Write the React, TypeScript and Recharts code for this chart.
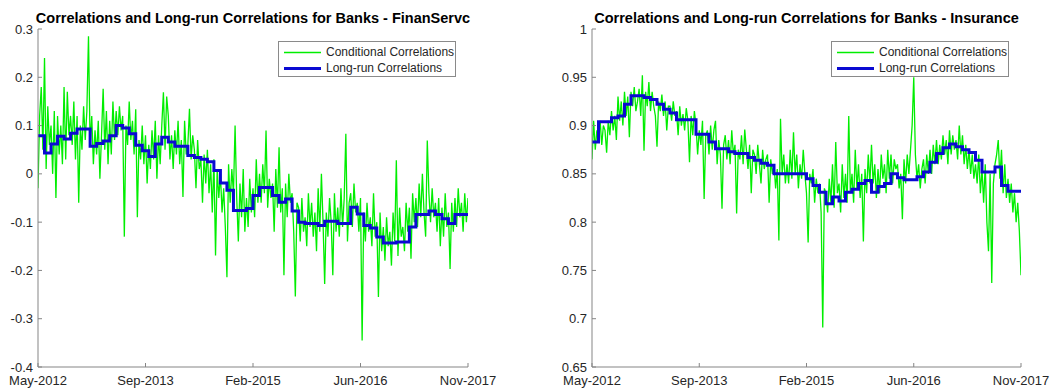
import React from 'react';
import { LineChart, Line, XAxis, YAxis } from 'recharts';

// ---- data ---------------------------------------------------------------

// Shared time axis: months since May-2012
const X_TICKS = [0, 16.5, 33, 49.5, 66];
const X_TICK_LABELS = ['May-2012', 'Sep-2013', 'Feb-2015', 'Jun-2016', 'Nov-2017'];
const COND_PER_MONTH = 4; // conditional correlations are sampled weekly

// Banks - FinanServc: conditional correlations (weekly)
const finanCond = [
  -0.03, 0.12, 0.18, 0.05,
  0.24, 0.01, 0.14, 0.06,
  0.10, 0.00, 0.13, -0.05,
  0.12, 0.04, 0.10, 0.02,
  0.18, 0.03, 0.17, 0.08,
  0.12, 0.06, 0.15, 0.03,
  0.12, -0.06, 0.10, 0.05,
  0.14, 0.07, 0.13, 0.285,
  0.06, 0.12, 0.02, 0.09,
  0.04, 0.11, -0.01, 0.08,
  0.176, 0.05, 0.13, 0.02,
  0.11, 0.04, 0.15, 0.07,
  0.13, 0.08, 0.14, 0.09,
  0.12, -0.13, 0.10, 0.06,
  0.15, 0.07, 0.11, 0.04,
  0.134, -0.09, 0.07, 0.03,
  0.10, 0.02, 0.08, -0.02,
  0.06, 0.01, 0.09, 0.03,
  0.11, -0.01, 0.08, 0.02,
  0.10, 0.169, 0.05, 0.16,
  0.12, 0.03, 0.08, 0.01,
  0.09, 0.04, 0.11, 0.02,
  0.07, -0.048, 0.11, 0.04,
  0.06, 0.135, 0.03, 0.08,
  0.05, -0.03, 0.07, 0.01,
  0.03, -0.06, 0.04, -0.02,
  0.05, -0.04, 0.02, -0.08,
  0.03, -0.169, 0.01, -0.05,
  0.00, -0.08, -0.03, -0.11,
  -0.214, 0.02, -0.06, 0.01,
  -0.04, 0.10, -0.05, -0.14,
  -0.02, -0.09, 0.01, -0.12,
  -0.05, -0.11, -0.01, -0.08,
  -0.03, -0.09, 0.03, -0.06,
  0.00, -0.06, 0.02, -0.04,
  0.09, -0.07, -0.01, -0.05,
  -0.02, -0.12, 0.01, -0.07,
  0.055, -0.08, -0.03, -0.21,
  -0.02, -0.09, 0.00, -0.06,
  -0.04, -0.12, -0.254, -0.06,
  -0.07, -0.14, -0.05, -0.12,
  -0.09, -0.15, -0.04, -0.11,
  -0.06, -0.13, -0.08, -0.16,
  -0.03, -0.12, 0.00, -0.10,
  -0.228, -0.08, -0.13, -0.05,
  -0.10, -0.21, -0.04, -0.12,
  -0.07, -0.13, -0.03, -0.11,
  -0.05, 0.083, -0.14, -0.06,
  -0.04, -0.11, -0.02, -0.08,
  -0.06, -0.12, -0.05, -0.345,
  -0.08, -0.14, -0.06, -0.12,
  -0.09, -0.15, -0.04, -0.13,
  -0.10, -0.255, -0.08, -0.16,
  -0.11, -0.18, -0.09, -0.15,
  -0.12, -0.19, -0.08, -0.14,
  0.028, -0.17, -0.07, -0.13,
  -0.11, -0.16, -0.06, -0.12,
  -0.07, -0.176, -0.04, -0.10,
  -0.05, -0.11, -0.02, -0.09,
  0.00, -0.08, -0.13, 0.069,
  -0.04, -0.10, -0.03, -0.09,
  -0.06, -0.12, -0.05, -0.15,
  -0.07, -0.13, -0.04, -0.11,
  -0.08, -0.197, -0.06, -0.12,
  -0.05, -0.11, -0.03, -0.09,
  -0.06, -0.12, -0.04, -0.10,
  -0.05,
];

// Banks - FinanServc: long-run correlations (monthly, piecewise constant)
const finanLongRun = [
  0.079, 0.043, 0.062, 0.078, 0.072, 0.084, 0.093, 0.093, 0.057, 0.063,
  0.068, 0.079, 0.100, 0.095, 0.083, 0.059, 0.048, 0.036, 0.062, 0.076,
  0.066, 0.057, 0.057, 0.038, 0.034, 0.030, 0.025, 0.007, -0.019, -0.034,
  -0.076, -0.076, -0.072, -0.045, -0.028, -0.028, -0.045, -0.059, -0.052, -0.077,
  -0.100, -0.103, -0.103, -0.107, -0.098, -0.098, -0.103, -0.103, -0.069, -0.083,
  -0.107, -0.112, -0.131, -0.143, -0.143, -0.141, -0.141, -0.110, -0.084, -0.084,
  -0.077, -0.084, -0.093, -0.103, -0.084, -0.084, -0.084,
];

// Banks - Insurance: conditional correlations (weekly)
const insCond = [
  0.865, 0.905, 0.875, 0.895,
  0.89, 0.905, 0.88, 0.90,
  0.895, 0.872, 0.905, 0.89,
  0.915, 0.895, 0.91, 0.885,
  0.93, 0.905, 0.925, 0.90,
  0.935, 0.91, 0.93, 0.888,
  0.935, 0.92, 0.94, 0.915,
  0.925, 0.938, 0.91, 0.952,
  0.874, 0.935, 0.92, 0.945,
  0.915, 0.935, 0.92, 0.91,
  0.878, 0.925, 0.915, 0.932,
  0.91, 0.925, 0.895, 0.92,
  0.92, 0.905, 0.925, 0.91,
  0.915, 0.89, 0.92, 0.90,
  0.912, 0.895, 0.918, 0.905,
  0.862, 0.91, 0.89, 0.915,
  0.90, 0.87, 0.895, 0.88,
  0.905, 0.824, 0.89, 0.895,
  0.87, 0.90, 0.875, 0.895,
  0.905, 0.86, 0.885, 0.87,
  0.814, 0.88, 0.89, 0.865,
  0.885, 0.86, 0.895, 0.87,
  0.88, 0.809, 0.875, 0.865,
  0.89, 0.86, 0.896, 0.875,
  0.855, 0.88, 0.83, 0.875,
  0.87, 0.85, 0.88, 0.86,
  0.84, 0.875, 0.855, 0.865,
  0.87, 0.82, 0.865, 0.85,
  0.86, 0.835, 0.855, 0.781,
  0.907, 0.85, 0.87, 0.84,
  0.86, 0.84, 0.875, 0.845,
  0.893, 0.85, 0.87, 0.835,
  0.86, 0.845, 0.875, 0.85,
  0.83, 0.779, 0.85, 0.84,
  0.855, 0.82, 0.845, 0.83,
  0.84, 0.81, 0.691, 0.835,
  0.83, 0.81, 0.845, 0.82,
  0.86, 0.815, 0.883, 0.83,
  0.84, 0.81, 0.86, 0.825,
  0.85, 0.82, 0.91, 0.83,
  0.85, 0.82, 0.875, 0.835,
  0.86, 0.825, 0.85, 0.78,
  0.855, 0.83, 0.87, 0.84,
  0.88, 0.84, 0.86, 0.825,
  0.855, 0.83, 0.87, 0.845,
  0.86, 0.83, 0.875, 0.845,
  0.87, 0.84, 0.865, 0.855,
  0.86, 0.835, 0.85, 0.803,
  0.865, 0.84, 0.87, 0.85,
  0.875, 0.90, 0.95, 0.87,
  0.845, 0.86, 0.835, 0.855,
  0.865, 0.84, 0.87, 0.85,
  0.875, 0.85, 0.88, 0.86,
  0.885, 0.86, 0.88, 0.865,
  0.89, 0.87, 0.885, 0.86,
  0.895, 0.87, 0.89, 0.875,
  0.885, 0.865, 0.90, 0.87,
  0.89, 0.86, 0.88, 0.855,
  0.875, 0.85, 0.87, 0.845,
  0.86, 0.84, 0.87, 0.83,
  0.855, 0.82, 0.86, 0.80,
  0.77, 0.85, 0.737, 0.84,
  0.86, 0.87, 0.885, 0.845,
  0.875, 0.83, 0.86, 0.825,
  0.845, 0.82, 0.84, 0.81,
  0.83, 0.80, 0.82, 0.79,
  0.745,
];

// Banks - Insurance: long-run correlations (monthly, piecewise constant)
const insLongRun = [
  0.883, 0.904, 0.904, 0.908, 0.910, 0.922, 0.931, 0.931, 0.929, 0.927,
  0.922, 0.917, 0.913, 0.906, 0.906, 0.906, 0.891, 0.891, 0.883, 0.876,
  0.876, 0.873, 0.871, 0.871, 0.867, 0.864, 0.861, 0.859, 0.850, 0.850,
  0.850, 0.850, 0.850, 0.845, 0.838, 0.831, 0.819, 0.826, 0.822, 0.831,
  0.834, 0.840, 0.843, 0.831, 0.837, 0.840, 0.850, 0.846, 0.844, 0.844,
  0.847, 0.852, 0.862, 0.871, 0.877, 0.881, 0.878, 0.875, 0.872, 0.864,
  0.852, 0.852, 0.857, 0.838, 0.832, 0.832, 0.832,
];

const finanYTicks = [-0.4, -0.3, -0.2, -0.1, 0, 0.1, 0.2, 0.3];
const insYTicks = [0.65, 0.7, 0.75, 0.8, 0.85, 0.9, 0.95, 1];

const LEGEND_LABELS = ['Conditional Correlations', 'Long-run Correlations'];

// ---- styling ------------------------------------------------------------

const FONT = '"Liberation Sans", Arial, Helvetica, sans-serif';
const AXIS_COLOR = '#858585';
const TEXT_COLOR = '#262626';
const COND_COLOR = '#00ee00';
const LONGRUN_COLOR = '#0a0ad2';
const TICK_LEN = 4;

const PANEL_W = 525;
const PANEL_H = 390;
const PLOT_TOP = 29;
const X_AXIS_H = 23;

// ---- axis tick renderers (MATLAB-style inward ticks on all four sides) ---

const BottomTick = (props: any) => {
  const { x, y, payload } = props;
  const idx = X_TICKS.indexOf(payload.value);
  return (
    <g>
      <line x1={x} x2={x} y1={y} y2={y - TICK_LEN} stroke={AXIS_COLOR} strokeWidth={1} />
      <text x={x} y={y + 18} textAnchor="middle" fontSize={13} fontFamily={FONT} fill={TEXT_COLOR}>
        {X_TICK_LABELS[idx]}
      </text>
    </g>
  );
};

const TopTick = (props: any) => {
  const { x, y } = props;
  return <line x1={x} x2={x} y1={y} y2={y + TICK_LEN} stroke={AXIS_COLOR} strokeWidth={1} />;
};

const LeftTick = (props: any) => {
  const { x, y, payload } = props;
  return (
    <g>
      <line x1={x} x2={x + TICK_LEN} y1={y} y2={y} stroke={AXIS_COLOR} strokeWidth={1} />
      <text x={x - 5} y={y + 4.5} textAnchor="end" fontSize={13} fontFamily={FONT} fill={TEXT_COLOR}>
        {String(payload.value)}
      </text>
    </g>
  );
};

const RightTick = (props: any) => {
  const { x, y } = props;
  return <line x1={x} x2={x - TICK_LEN} y1={y} y2={y} stroke={AXIS_COLOR} strokeWidth={1} />;
};

// ---- one panel ----------------------------------------------------------

type PanelProps = {
  left: number;
  title: string;
  cond: number[];
  longRun: number[];
  yTicks: number[];
  yAxisW: number;
  rightMargin: number;
};

const Panel = ({ left, title, cond, longRun, yTicks, yAxisW, rightMargin }: PanelProps) => {
  const condData = cond.map((v, i) => ({ m: i / COND_PER_MONTH, v }));
  const longRunData = longRun.map((v, i) => ({ m: i, v }));
  const yDomain = [yTicks[0], yTicks[yTicks.length - 1]];
  const plotLeft = yAxisW;
  const plotRight = PANEL_W - rightMargin;
  const plotW = plotRight - plotLeft;
  const axisLine = { stroke: AXIS_COLOR, strokeWidth: 1 };

  return (
    <div style={{ position: 'absolute', left, top: 0, width: PANEL_W, height: PANEL_H }}>
      <LineChart
        width={PANEL_W}
        height={PANEL_H}
        margin={{ top: PLOT_TOP, right: rightMargin, bottom: 0, left: 0 }}
      >
        <XAxis
          xAxisId="bottom"
          dataKey="m"
          type="number"
          domain={[0, 66]}
          ticks={X_TICKS}
          height={X_AXIS_H}
          tickSize={0}
          tickMargin={0}
          tickLine={false}
          axisLine={axisLine}
          tick={<BottomTick />}
          interval={0}
          allowDataOverflow
        />
        <XAxis
          xAxisId="top"
          orientation="top"
          dataKey="m"
          type="number"
          domain={[0, 66]}
          ticks={X_TICKS}
          height={0}
          tickSize={0}
          tickMargin={0}
          tickLine={false}
          axisLine={axisLine}
          tick={<TopTick />}
          interval={0}
          allowDataOverflow
        />
        <YAxis
          yAxisId="left"
          type="number"
          domain={yDomain}
          ticks={yTicks}
          width={yAxisW}
          tickSize={0}
          tickMargin={0}
          tickLine={false}
          axisLine={axisLine}
          tick={<LeftTick />}
          interval={0}
          allowDataOverflow
        />
        <YAxis
          yAxisId="right"
          orientation="right"
          type="number"
          domain={yDomain}
          ticks={yTicks}
          width={0}
          tickSize={0}
          tickMargin={0}
          tickLine={false}
          axisLine={axisLine}
          tick={<RightTick />}
          interval={0}
          allowDataOverflow
        />
        <Line
          xAxisId="bottom"
          yAxisId="left"
          data={condData}
          dataKey="v"
          type="linear"
          stroke={COND_COLOR}
          strokeWidth={1.3}
          dot={false}
          activeDot={false}
          isAnimationActive={false}
        />
        <Line
          xAxisId="bottom"
          yAxisId="left"
          data={longRunData}
          dataKey="v"
          type="stepAfter"
          stroke={LONGRUN_COLOR}
          strokeWidth={3}
          dot={false}
          activeDot={false}
          isAnimationActive={false}
        />
      </LineChart>

      {/* title, centred over the plot box */}
      <div
        style={{
          position: 'absolute',
          left: plotLeft - 60,
          width: plotW + 120,
          top: 10,
          textAlign: 'center',
          fontFamily: FONT,
          fontWeight: 'bold',
          fontSize: 14.5,
          lineHeight: '17px',
          color: '#000',
          whiteSpace: 'nowrap',
        }}
      >
        {title}
      </div>

      {/* legend box, upper right of the plot */}
      <div
        style={{
          position: 'absolute',
          left: plotRight - 12 - 178,
          top: 41,
          width: 176,
          height: 34,
          border: '1px solid #8a8a8a',
          background: '#fff',
          fontFamily: FONT,
          fontSize: 12,
          color: TEXT_COLOR,
        }}
      >
        {LEGEND_LABELS.map((label, i) => (
          <div
            key={label}
            style={{ position: 'absolute', left: 4, top: i === 0 ? 3 : 18.5, height: 15, display: 'flex', alignItems: 'center' }}
          >
            <svg width={38} height={15} style={{ display: 'block' }}>
              <line
                x1={1}
                x2={38}
                y1={7.5}
                y2={7.5}
                stroke={i === 0 ? COND_COLOR : LONGRUN_COLOR}
                strokeWidth={i === 0 ? 1.3 : 3}
              />
            </svg>
            <span style={{ marginLeft: 5, whiteSpace: 'nowrap', lineHeight: '15px' }}>{label}</span>
          </div>
        ))}
      </div>
    </div>
  );
};

export default function App() {
  return (
    <div style={{ position: 'absolute', left: 0, top: 0, width: 1050, height: 390, background: '#fff', overflow: 'hidden' }}>
      <Panel
        left={0}
        title="Correlations and Long-run Correlations for Banks - FinanServc"
        cond={finanCond}
        longRun={finanLongRun}
        yTicks={finanYTicks}
        yAxisW={38}
        rightMargin={57}
      />
      <Panel
        left={525}
        title="Correlations and Long-run Correlations for Banks - Insurance"
        cond={insCond}
        longRun={insLongRun}
        yTicks={insYTicks}
        yAxisW={67}
        rightMargin={29}
      />
    </div>
  );
}
